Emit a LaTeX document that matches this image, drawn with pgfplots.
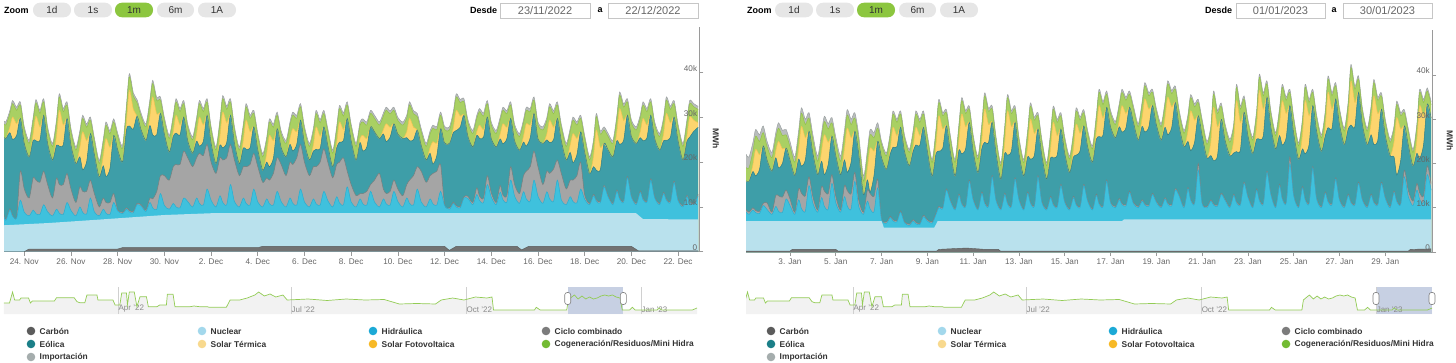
\documentclass[border=0pt]{standalone}
\usepackage{pgfplots}
\pgfplotsset{compat=1.18}
\usepackage{pgfplotstable}
\usepackage{fontspec}
\setmainfont{Liberation Sans}
\newcommand\fs[1]{\fontsize{#1}{#1}\selectfont}
\definecolor{impF}{HTML}{B9BDBD}\definecolor{impL}{HTML}{9CA2A2}
\definecolor{cogF}{HTML}{A9D063}\definecolor{cogL}{HTML}{93C24C}
\definecolor{solF}{HTML}{FCD56E}\definecolor{solL}{HTML}{F2C552}
\definecolor{winF}{HTML}{3E9EA8}\definecolor{winL}{HTML}{2E7F88}
\definecolor{ccF}{HTML}{A5A5A5}\definecolor{ccL}{HTML}{76807F}
\definecolor{hydF}{HTML}{3FC1DD}\definecolor{hydL}{HTML}{2AAED0}
\definecolor{nucF}{HTML}{B9E1ED}\definecolor{nucL}{HTML}{A8D8E8}
\definecolor{carF}{HTML}{727272}\definecolor{carL}{HTML}{5A5A5A}
\definecolor{axgray}{HTML}{9A9A9A}\definecolor{labgray}{HTML}{666666}
\definecolor{txt}{HTML}{333333}\definecolor{btn}{HTML}{E6E6E6}\definecolor{btnon}{HTML}{8CC63F}
\definecolor{navfill}{HTML}{F2F2F2}\definecolor{navline}{HTML}{93CC55}\definecolor{sel}{HTML}{C7D0E3}
\definecolor{navgrid}{HTML}{D0D0D0}\definecolor{navlab}{HTML}{8A8A8A}
\definecolor{lgCar}{HTML}{5C5C5C}\definecolor{lgNuc}{HTML}{A3D8EC}\definecolor{lgHyd}{HTML}{1CA9D6}
\definecolor{lgCC}{HTML}{7C7C7C}\definecolor{lgWin}{HTML}{1B7F88}\definecolor{lgST}{HTML}{F8D98E}
\definecolor{lgPV}{HTML}{F7B926}\definecolor{lgCog}{HTML}{73BB33}\definecolor{lgImp}{HTML}{A5ADAD}

% ---------------- LEFT PANEL (days since 23 Nov 2022, values in thousands of MWh, cumulative tops)
\pgfplotstableread{
t H C W S G T
0.10 8.4 8.7 25.7 25.7 28.7 29.4
0.21 7.0 7.3 25.3 25.3 28.3 29.0
0.38 9.3 9.6 26.6 27.8 30.8 31.5
0.50 7.9 8.2 25.1 30.1 33.1 33.8
0.67 7.5 7.8 25.9 28.6 31.6 32.3
0.83 11.5 18.0 29.8 29.8 32.8 33.5
1.00 8.8 14.0 24.2 24.2 27.2 27.9
1.21 8.0 12.0 21.2 21.2 24.2 24.9
1.38 9.3 16.5 24.9 26.3 29.3 30.0
1.50 8.5 16.0 24.8 30.3 33.3 34.0
1.67 8.3 15.5 24.9 27.9 30.9 31.6
1.83 10.5 18.0 30.5 30.5 33.5 34.2
2.00 8.9 15.0 24.2 24.2 27.2 27.9
2.21 8.0 12.0 20.5 20.5 23.5 24.2
2.38 9.5 16.5 23.8 25.8 28.8 29.5
2.50 8.6 15.0 23.6 31.6 34.6 35.3
2.67 8.3 15.0 23.9 28.3 31.3 32.0
2.83 11.0 17.5 29.8 29.8 32.8 33.5
3.00 9.2 14.0 23.8 23.8 26.8 27.5
3.21 8.0 11.0 19.7 19.7 22.7 23.4
3.38 10.0 14.5 21.2 23.3 26.3 27.0
3.50 8.8 13.5 18.3 26.8 29.8 30.5
3.67 8.4 13.5 20.1 24.8 27.8 28.5
3.83 12.0 16.0 26.4 26.4 29.4 30.1
4.00 8.9 13.0 21.8 21.8 24.8 25.5
4.21 8.0 10.0 16.7 16.7 19.7 20.4
4.38 9.5 12.0 19.2 21.3 24.3 25.0
4.50 8.6 11.0 16.8 25.3 28.3 29.0
4.67 8.3 11.0 18.6 23.3 26.3 27.0
4.83 11.0 13.0 26.0 26.0 29.0 29.7
5.00 9.1 9.4 22.8 22.8 25.8 26.5
5.21 8.5 8.8 20.1 20.1 23.1 23.8
5.38 9.5 9.8 27.3 29.3 32.3 33.0
5.50 8.9 9.2 28.1 36.1 39.1 39.8
5.67 8.7 9.0 27.4 31.8 34.8 35.5
5.83 10.5 10.8 30.3 30.3 33.3 34.0
6.00 10.2 10.5 27.3 27.3 30.3 31.0
6.21 9.0 9.3 24.9 24.9 27.9 28.6
6.38 11.0 12.0 28.2 30.3 33.3 34.0
6.50 9.8 11.8 26.1 34.6 37.6 38.3
6.67 9.4 13.4 26.1 30.8 33.8 34.5
6.83 13.0 17.0 30.9 30.9 33.9 34.6
7.00 10.3 17.0 26.3 26.3 29.3 30.0
7.21 9.5 16.0 22.3 22.3 25.3 26.0
7.38 10.8 19.0 25.8 26.8 29.8 30.5
7.50 10.0 19.5 26.5 30.5 33.5 34.2
7.67 9.8 19.5 26.1 28.3 31.3 32.0
7.83 12.0 22.5 30.1 30.1 33.1 33.8
8.00 11.2 21.0 24.8 24.8 27.8 28.5
8.21 10.0 19.0 22.0 22.0 25.0 25.7
8.38 12.0 21.0 24.7 26.3 29.3 30.0
8.50 10.8 22.0 23.6 30.1 33.1 33.8
8.67 10.4 21.5 24.7 28.3 31.3 32.0
8.83 14.0 24.0 30.5 30.5 33.5 34.2
9.00 11.5 20.0 24.3 24.3 27.3 28.0
9.21 10.0 17.5 19.7 19.7 22.7 23.4
9.38 12.5 21.0 23.8 25.8 28.8 29.5
9.50 11.0 20.5 23.2 31.2 34.2 34.9
9.67 10.5 21.0 24.4 28.8 31.8 32.5
9.83 15.0 24.0 30.5 30.5 33.5 34.2
10.00 11.2 20.5 24.3 24.3 27.3 28.0
10.21 10.0 17.0 19.7 19.7 22.7 23.4
10.38 12.0 19.0 23.2 24.8 27.8 28.5
10.50 10.8 19.0 22.9 29.4 32.4 33.1
10.67 10.4 19.5 23.2 26.8 29.8 30.5
10.83 14.0 22.0 27.9 27.9 30.9 31.6
11.00 11.1 19.0 22.8 22.8 25.8 26.5
11.21 10.0 15.5 18.2 18.2 21.2 21.9
11.38 11.8 16.5 20.0 21.8 24.8 25.5
11.50 10.7 16.0 19.0 26.0 29.0 29.7
11.67 10.4 17.5 20.9 24.8 27.8 28.5
11.83 13.5 21.0 27.5 27.5 30.5 31.2
12.00 11.2 19.5 23.3 23.3 26.3 27.0
12.21 10.0 17.0 21.2 21.2 24.2 24.9
12.38 12.0 20.0 24.0 25.3 28.3 29.0
12.50 10.8 19.5 22.5 27.5 30.5 31.2
12.67 10.4 21.0 24.0 26.8 29.8 30.5
12.83 14.0 24.0 29.4 29.4 32.4 33.1
13.00 11.1 20.0 24.3 24.3 27.3 28.0
13.21 10.0 17.0 20.5 20.5 23.5 24.2
13.38 11.8 19.0 22.5 23.8 26.8 27.5
13.50 10.7 19.0 22.9 27.9 30.9 31.6
13.67 10.4 20.0 23.0 25.8 28.8 29.5
13.83 13.5 23.0 27.9 27.9 30.9 31.6
14.00 11.4 20.0 23.8 23.8 26.8 27.5
14.21 10.0 16.5 19.0 19.0 22.0 22.7
14.38 12.3 19.5 23.2 24.3 27.3 28.0
14.50 10.9 20.0 24.5 29.0 32.0 32.7
14.67 10.5 21.0 24.8 27.3 30.3 31.0
14.83 14.5 18.0 29.8 29.8 32.8 33.5
15.00 11.1 15.0 24.8 24.8 27.8 28.5
15.21 10.0 12.5 20.5 20.5 23.5 24.2
15.38 11.8 13.0 24.4 25.3 28.3 29.0
15.50 10.7 13.0 22.5 26.0 29.0 29.7
15.67 10.4 13.5 23.4 25.3 28.3 29.0
15.83 13.5 15.0 27.9 27.9 30.9 31.6
16.00 11.1 16.0 26.8 26.8 29.8 30.5
16.21 10.0 17.5 25.3 25.3 28.3 29.0
16.38 11.8 14.0 26.3 27.3 30.3 31.0
16.50 10.7 13.0 24.6 28.6 31.6 32.3
16.67 10.4 13.5 25.6 27.8 30.8 31.5
16.83 13.5 16.0 28.6 28.6 31.6 32.3
17.00 11.2 14.0 26.3 26.3 29.3 30.0
17.21 10.0 12.5 25.3 25.3 28.3 29.0
17.38 12.0 15.0 25.5 26.8 29.8 30.5
17.50 10.8 16.0 24.8 29.8 32.8 33.5
17.67 10.4 17.0 25.0 27.8 30.8 31.5
17.83 14.0 19.0 27.2 27.2 30.2 30.9
18.00 11.1 18.0 23.8 23.8 26.8 27.5
18.21 10.0 15.5 20.5 20.5 23.5 24.2
18.38 11.8 17.0 22.0 23.3 26.3 27.0
18.50 10.7 17.5 19.6 24.6 27.6 28.3
18.67 10.4 18.0 21.5 24.3 27.3 28.0
18.83 13.5 19.5 27.5 27.5 30.5 31.2
19.00 10.3 10.6 24.3 24.3 27.3 28.0
19.21 9.5 9.8 24.2 24.2 27.2 27.9
19.38 10.8 11.1 26.7 27.8 30.8 31.5
19.50 10.0 10.3 27.1 31.6 34.6 35.3
19.67 9.8 10.1 27.8 30.3 33.3 34.0
19.83 12.0 12.3 30.5 30.5 33.5 34.2
20.00 11.9 12.4 25.8 25.8 28.8 29.5
20.21 10.5 11.0 23.4 23.4 26.4 27.1
20.38 12.8 14.3 26.0 26.8 29.8 30.5
20.50 11.4 12.4 25.3 28.3 31.3 32.0
20.67 11.0 12.0 25.6 27.3 30.3 31.0
20.83 15.0 17.0 30.1 30.1 33.1 33.8
21.00 12.2 13.2 25.3 25.3 28.3 29.0
21.21 10.5 11.0 23.4 23.4 26.4 27.1
21.38 13.3 14.8 25.2 26.3 29.3 30.0
21.50 11.6 12.6 24.1 28.6 31.6 32.3
21.67 11.1 12.6 25.3 27.8 30.8 31.5
21.83 16.0 19.0 29.8 29.8 32.8 33.5
22.00 12.4 15.0 24.8 24.8 27.8 28.5
22.21 10.8 13.0 22.7 22.7 25.7 26.4
22.38 13.4 17.0 24.5 25.8 28.8 29.5
22.50 11.8 18.0 23.6 28.6 31.6 32.3
22.67 11.3 19.0 25.5 28.3 31.3 32.0
22.83 16.0 22.5 30.9 30.9 33.9 34.6
23.00 12.4 19.0 25.3 25.3 28.3 29.0
23.21 10.8 15.0 24.2 24.2 27.2 27.9
23.38 13.4 18.0 25.0 26.3 29.3 30.0
23.50 11.8 17.5 24.4 29.4 32.4 33.1
23.67 11.3 18.5 25.0 27.8 30.8 31.5
23.83 16.0 20.5 29.8 29.8 32.8 33.5
24.00 11.6 17.5 24.8 24.8 27.8 28.5
24.21 10.5 14.0 20.5 20.5 23.5 24.2
24.38 12.3 16.0 22.2 23.8 26.8 27.5
24.50 11.2 16.0 19.9 26.4 29.4 30.1
24.67 10.9 17.0 21.7 25.3 28.3 29.0
24.83 14.0 20.0 26.8 26.8 29.8 30.5
25.00 11.7 12.7 22.3 22.3 25.3 26.0
25.21 10.5 10.8 17.5 17.5 20.5 21.2
25.38 12.5 12.8 19.0 21.3 24.3 25.0
25.50 11.3 11.6 18.2 27.2 30.2 30.9
25.67 10.9 11.2 18.3 23.3 26.3 27.0
25.83 14.5 14.8 24.2 24.2 27.2 27.9
26.00 12.3 12.6 22.8 22.8 25.8 26.5
26.21 10.5 10.8 21.2 21.2 24.2 24.9
26.38 13.5 13.8 24.8 26.8 29.8 30.5
26.50 11.7 12.0 24.0 32.0 35.0 35.7
26.67 11.1 11.4 24.9 29.3 32.3 33.0
26.83 16.5 16.8 30.5 30.5 33.5 34.2
27.00 12.2 12.5 25.8 25.8 28.8 29.5
27.21 10.5 10.8 24.2 24.2 27.2 27.9
27.38 13.3 13.6 25.5 26.8 29.8 30.5
27.50 11.6 11.9 24.8 29.8 32.8 33.5
27.67 11.1 11.4 25.5 28.3 31.3 32.0
27.83 16.0 16.3 30.5 30.5 33.5 34.2
28.00 12.0 12.3 25.3 25.3 28.3 29.0
28.21 10.5 10.8 22.7 22.7 25.7 26.4
28.38 13.0 13.3 24.8 26.3 29.3 30.0
28.50 11.5 11.8 24.9 30.9 33.9 34.6
28.67 11.0 11.3 25.5 28.8 31.8 32.5
28.83 15.5 15.8 30.1 30.1 33.1 33.8
29.00 11.4 11.7 24.8 24.8 27.8 28.5
29.21 10.0 10.3 20.5 20.5 23.5 24.2
29.38 12.3 12.6 24.7 25.8 28.8 29.5
29.50 10.9 11.2 25.6 30.1 33.1 33.8
29.67 10.5 10.8 26.9 29.4 32.4 33.1
29.86 12.5 12.8 27.8 28.8 31.8 32.5
}\leftdata
\pgfplotstableread{
t N
0.10 5.9
2 6.4
4 7.1
7 8.2
9 8.6
27.2 8.6
27.5 7.3
29.86 7.2
}\leftnuc
\pgfplotstableread{
t K
0.10 0
1.0 0
1.2 0.6
5.0 0.6
5.2 0.9
11.0 0.9
11.2 1.2
19.0 1.2
19.2 0.3
19.5 1.2
22.1 1.2
22.3 0.4
22.6 1.2
27.0 1.2
27.3 0.2
29.86 0.2
}\leftcar

% ---------------- RIGHT PANEL (days since 1 Jan 2023)
\pgfplotstableread{
t H C W S G T
0.08 9.1 9.6 16.1 16.1 19.1 22.1
0.21 8.5 9.0 16.0 16.0 19.0 21.5
0.38 9.5 10.0 18.2 19.7 22.7 24.7
0.50 8.9 9.4 17.2 23.2 26.2 27.7
0.67 8.7 9.2 18.7 22.0 25.0 26.5
0.83 10.5 11.0 24.0 24.0 27.0 28.5
1.00 9.6 11.1 20.8 20.8 23.8 25.0
1.21 8.5 9.0 18.3 18.3 21.3 22.5
1.38 10.3 12.8 21.3 22.8 25.8 27.0
1.50 9.2 12.7 19.0 25.0 28.0 29.2
1.67 8.9 12.4 20.0 23.3 26.3 27.5
1.83 12.0 14.0 23.5 23.5 26.5 27.7
2.00 10.5 12.0 20.8 20.8 23.8 25.0
2.21 8.5 9.0 17.3 17.3 20.3 21.5
2.38 11.8 14.3 21.0 23.3 26.3 27.5
2.50 9.8 13.3 19.4 28.4 31.4 32.6
2.67 9.2 12.7 20.8 25.8 28.8 30.0
2.83 15.0 17.0 27.3 27.3 30.3 31.5
3.00 11.0 12.5 22.3 22.3 25.3 26.5
3.21 9.0 9.5 17.5 17.5 20.5 21.7
3.38 12.3 14.8 20.5 22.8 25.8 27.0
3.50 10.3 13.8 17.5 26.5 29.5 30.7
3.67 9.7 13.2 19.8 24.8 27.8 29.0
3.83 15.5 17.5 26.2 26.2 29.2 30.4
4.00 11.1 12.6 21.8 21.8 24.8 26.0
4.21 9.0 9.5 17.5 17.5 20.5 21.7
4.38 12.5 15.0 20.8 23.3 26.3 27.5
4.50 10.4 13.9 18.0 28.0 31.0 32.2
4.67 9.7 13.2 20.3 25.8 28.8 30.0
4.83 16.0 18.0 27.3 27.3 30.3 31.5
5.00 10.3 11.8 22.3 22.3 25.3 26.5
5.21 8.5 9.0 13.0 13.0 16.0 17.2
5.38 11.5 14.0 16.3 18.8 21.8 23.0
5.50 9.7 13.2 13.5 23.5 26.5 27.7
5.67 9.1 12.6 17.3 22.8 25.8 27.0
5.83 14.5 16.5 25.0 25.0 28.0 29.2
6.00 7.3 7.6 21.3 21.3 24.3 25.0
6.21 6.5 6.8 18.7 18.7 21.7 22.4
6.38 7.8 8.1 22.2 23.3 26.3 27.0
6.50 7.0 7.3 23.7 28.2 31.2 31.9
6.67 6.8 7.1 23.8 26.3 29.3 30.0
6.83 9.0 9.3 28.2 28.2 31.2 31.9
7.00 6.6 6.9 22.8 22.8 25.8 26.5
7.21 6.0 6.3 19.5 19.5 22.5 23.2
7.38 7.0 7.3 22.8 23.8 26.8 27.5
7.50 6.4 6.7 24.2 28.2 31.2 31.9
7.67 6.2 6.5 24.1 26.3 29.3 30.0
7.83 8.0 8.3 28.2 28.2 31.2 31.9
8.00 7.0 7.3 22.8 22.8 25.8 26.5
8.21 6.5 6.8 17.2 17.2 20.2 20.9
8.38 8.5 8.8 22.3 24.3 27.3 28.0
8.50 10.0 10.3 22.8 30.8 33.8 34.5
8.67 9.8 10.1 23.4 27.8 30.8 31.5
8.83 14.0 14.3 28.5 28.5 31.5 32.2
9.00 11.5 11.8 22.8 22.8 25.8 26.5
9.21 9.5 9.8 17.2 17.2 20.2 20.9
9.38 12.8 13.1 23.0 25.3 28.3 29.0
9.50 10.8 11.1 22.2 31.2 34.2 34.9
9.67 10.2 10.5 23.3 28.3 31.3 32.0
9.83 16.0 16.3 29.3 29.3 32.3 33.0
10.00 11.8 12.1 22.8 22.8 25.8 26.5
10.21 9.5 9.8 18.0 18.0 21.0 21.7
10.38 13.3 13.6 23.4 25.3 28.3 29.0
10.50 11.0 11.3 24.8 32.3 35.3 36.0
10.67 10.3 10.6 24.7 28.8 31.8 32.5
10.83 17.0 17.3 29.3 29.3 32.3 33.0
11.00 11.6 11.9 22.3 22.3 25.3 26.0
11.21 9.5 9.8 16.5 16.5 19.5 20.2
11.38 13.0 13.3 22.3 24.8 27.8 28.5
11.50 10.9 11.2 21.9 31.9 34.9 35.6
11.67 10.2 10.5 22.8 28.3 31.3 32.0
11.83 16.5 16.8 29.3 29.3 32.3 33.0
12.00 11.8 12.1 22.3 22.3 25.3 26.0
12.21 9.5 9.8 17.2 17.2 20.2 20.9
12.38 13.3 13.6 21.5 23.8 26.8 27.5
12.50 11.0 11.3 21.0 30.0 33.0 33.7
12.67 10.3 10.6 21.8 26.8 29.8 30.5
12.83 17.0 17.3 27.8 27.8 30.8 31.5
13.00 11.2 11.5 21.8 21.8 24.8 25.5
13.21 9.5 9.8 16.5 16.5 19.5 20.2
13.38 12.3 12.6 21.3 23.3 26.3 27.0
13.50 10.6 10.9 21.3 29.3 32.3 33.0
13.67 10.1 10.4 21.9 26.3 29.3 30.0
13.83 15.0 15.3 27.8 27.8 30.8 31.5
14.00 11.2 11.5 22.3 22.3 25.3 26.0
14.21 9.5 9.8 18.0 18.0 21.0 21.7
14.38 12.3 12.6 21.5 23.3 26.3 27.0
14.50 10.6 10.9 21.9 28.9 31.9 32.6
14.67 10.1 10.4 22.9 26.8 29.8 30.5
14.83 15.0 15.3 28.5 28.5 31.5 32.2
15.00 11.5 11.8 23.8 23.8 26.8 27.5
15.21 9.5 9.8 20.3 20.3 23.3 24.0
15.38 12.8 13.1 25.5 27.3 30.3 31.0
15.50 10.8 11.1 26.1 33.1 36.1 36.8
15.67 10.2 10.5 26.4 30.3 33.3 34.0
15.83 16.0 16.3 32.7 32.7 35.7 36.4
16.00 11.1 11.4 28.3 28.3 31.3 32.0
16.21 10.0 10.3 25.8 25.8 28.8 29.5
16.38 11.8 12.1 28.3 29.8 32.8 33.5
16.50 10.7 11.0 27.1 33.1 36.1 36.8
16.67 10.4 10.7 28.0 31.3 34.3 35.0
16.83 13.5 13.8 32.7 32.7 35.7 36.4
17.00 10.9 11.2 29.3 29.3 32.3 33.0
17.21 10.0 10.3 25.3 25.3 28.3 29.0
17.38 11.5 11.8 28.4 30.3 33.3 34.0
17.50 10.6 10.9 27.1 34.6 37.6 38.3
17.67 10.3 10.6 28.2 32.3 35.3 36.0
17.83 13.0 13.3 33.1 33.1 36.1 36.8
18.00 11.2 11.5 28.8 28.8 31.8 32.5
18.21 10.0 10.3 25.3 25.3 28.3 29.0
18.38 12.0 12.3 28.2 30.3 33.3 34.0
18.50 10.8 11.1 26.5 35.0 38.0 38.7
18.67 10.4 10.7 28.1 32.8 35.8 36.5
18.83 14.0 14.3 33.8 33.8 36.8 37.5
19.00 12.6 12.9 28.3 28.3 31.3 32.0
19.21 10.0 10.3 23.8 23.8 26.8 27.5
19.38 14.3 14.6 25.0 27.3 30.3 31.0
19.50 11.7 12.0 22.9 31.9 34.9 35.6
19.67 10.9 11.2 24.8 29.8 32.8 33.5
19.83 18.5 20.0 30.8 30.8 33.8 34.5
20.00 10.9 11.2 26.3 26.3 29.3 30.0
20.21 10.0 10.3 21.3 21.3 24.3 25.0
20.38 11.5 11.8 21.8 24.8 27.8 28.5
20.50 10.6 10.9 20.7 32.7 35.7 36.4
20.67 10.3 10.6 21.7 28.3 31.3 32.0
20.83 13.0 13.3 30.0 30.0 33.0 33.7
21.00 11.7 12.0 25.3 25.3 28.3 29.0
21.21 10.0 10.3 21.8 21.8 24.8 25.5
21.38 12.8 13.1 22.4 25.3 28.3 29.0
21.50 11.1 11.4 22.7 34.2 37.2 37.9
21.67 10.6 10.9 23.0 29.3 32.3 33.0
21.83 15.5 15.8 31.6 31.6 34.6 35.3
22.00 12.4 12.7 26.3 26.3 29.3 30.0
22.21 10.0 10.3 22.3 22.3 25.3 26.0
22.38 14.0 14.3 25.5 28.3 31.3 32.0
22.50 11.6 11.9 25.5 36.5 39.5 40.2
22.67 10.8 11.1 26.2 32.3 35.3 36.0
22.83 18.0 18.3 35.0 35.0 38.0 38.7
23.00 13.0 13.3 28.3 28.3 31.3 32.0
23.21 10.0 10.3 23.3 23.3 26.3 27.0
23.38 15.0 15.3 26.3 28.8 31.8 32.5
23.50 12.0 12.3 24.2 34.2 37.2 37.9
23.67 11.0 11.3 25.8 31.3 34.3 35.0
23.83 20.0 21.5 33.1 33.1 36.1 36.8
24.00 12.7 13.0 26.8 26.8 29.8 30.5
24.21 10.0 10.3 21.0 21.0 24.0 24.7
24.38 14.5 14.8 23.3 26.3 29.3 30.0
24.50 11.8 12.1 22.2 34.2 37.2 37.9
24.67 10.9 11.2 24.2 30.8 33.8 34.5
24.83 19.0 19.3 33.1 33.1 36.1 36.8
25.00 12.0 12.3 27.3 27.3 30.3 31.0
25.21 10.0 10.3 22.8 22.8 25.8 26.5
25.38 13.3 13.6 26.3 28.3 31.3 32.0
25.50 11.3 11.6 28.1 36.1 39.1 39.8
25.67 10.7 11.0 27.9 32.3 35.3 36.0
25.83 16.5 16.8 34.6 34.6 37.6 38.3
26.00 11.7 12.0 28.8 28.8 31.8 32.5
26.21 10.0 10.3 24.3 24.3 27.3 28.0
26.38 12.8 13.1 27.8 30.3 33.3 34.0
26.50 11.1 11.4 28.7 38.7 41.7 42.4
26.67 10.6 10.9 28.3 33.8 36.8 37.5
26.83 15.5 15.8 36.1 36.1 39.1 39.8
27.00 11.7 12.0 28.8 28.8 31.8 32.5
27.21 10.0 10.3 24.3 24.3 27.3 28.0
27.38 12.8 13.1 26.5 29.3 32.3 33.0
27.50 11.1 11.4 24.3 35.3 38.3 39.0
27.67 10.6 10.9 25.2 31.3 34.3 35.0
27.83 15.5 15.8 32.3 32.3 35.3 36.0
28.00 12.1 12.4 26.3 26.3 29.3 30.0
28.21 10.0 10.3 21.8 21.8 24.8 25.5
28.38 13.5 13.8 21.5 24.8 27.8 28.5
28.50 11.4 11.7 17.4 30.4 33.4 34.1
28.67 10.7 11.0 20.6 27.8 30.8 31.5
28.83 17.0 18.5 28.5 28.5 31.5 32.2
29.00 12.6 14.0 24.3 24.3 27.3 28.0
29.21 10.5 11.5 19.5 19.5 22.5 23.2
29.38 14.0 15.5 22.3 25.3 28.3 29.0
29.50 11.9 13.4 21.1 33.1 36.1 36.8
29.67 11.2 12.7 24.2 30.8 33.8 34.5
29.83 17.5 19.5 33.4 33.4 36.4 37.1
30.00 14.0 15.5 30.3 30.3 33.3 34.0
}\rightdata
\pgfplotstableread{
t N
0.08 7.0
6.0 7.0
6.1 5.5
8.3 5.5
8.45 7.0
16.5 7.0
16.6 7.4
30.0 7.4
}\rightnuc
\pgfplotstableread{
t K
0.08 0.2
2.0 0.2
2.1 0.6
4.0 0.6
4.1 0.2
8.4 0.2
8.5 0.6
9.7 0.9
10.5 0.6
11.1 0.6
11.2 0.2
29.0 0.2
29.1 0.6
30.0 0.7
}\rightcar

% ---------------- navigator series (days since 1 Jan 2022, relative height)
\pgfplotstableread{
d v
30.1 11
33 11
34.6 22
35.7 14
38.3 14
39 16
43 16
44 11
45 13
56.6 13
57.7 16.3
67 16.3
68.5 12.3
70 11.3
72.6 11.3
73.7 19
79 19
79.5 14
87.4 14
88.5 9
91 9
92 21
94.5 21
95 9
96 22
98.6 22
100 7.3
101.6 17.3
105 17.3
106 7.3
110.5 7.3
112 9
115.5 9
116 19.7
119 19.7
120 7.3
128 7.3
130 8
133 7.3
137 7.3
138 6.7
147 6.7
149 14
154 14
158 16
162 19
164 22
167 18
170 20
173 17
176.8 19
179 14
190 15
200 13.5
210 15
220 14
230 14.5
238 10
247 10.5
257 10
260 14
266 16
272 14
278 17
284 16
286.7 17
287.5 4
309 4
310 6.7
312 4
326 4
326.8 14
328 16
330 19
332 15
334 18
336 15
338 17
340 15
342 16
344 18
346 19
348 18
350 19
352 17
354 16
355.2 4
359 4
360.5 6.7
362 4
373.5 4
374.5 6
376 4
392 4
394.5 6
}\navdata

\pgfplotsset{
  mainax/.style={scale only axis, anchor=south west, ymin=0,
    axis x line*=bottom, axis y line*=right, tick align=outside,
    major tick length=4pt, ytick={0,10,20,30,40}, yticklabel style={text opacity=0},
    axis line style={draw=axgray, line width=0.7pt}, tick style={draw=axgray, line width=0.6pt},
    xticklabel style={font=\fs{8.2}, text=labgray, inner sep=1pt, yshift=-1.5pt},
    clip=true},
  lay/.style={line width=0.5pt, smooth, tension=0.45},
  navax/.style={scale only axis, anchor=south west, ymin=0, ymax=27, axis lines=none, clip=true}
}
\newcommand\stack[3]{%
  \addplot[lay, fill=impF, draw=none] table[x=t,y=T]{#1} \closedcycle;
  \addplot[lay, fill=cogF, draw=none] table[x=t,y=G]{#1} \closedcycle;
  \addplot[lay, fill=solF, draw=none] table[x=t,y=S]{#1} \closedcycle;
  \addplot[lay, fill=winF, draw=none] table[x=t,y=W]{#1} \closedcycle;
  \addplot[lay, fill=ccF, draw=none] table[x=t,y=C]{#1} \closedcycle;
  \addplot[lay, fill=hydF, draw=none] table[x=t,y=H]{#1} \closedcycle;
  \addplot[lay, draw=impL] table[x=t,y=T]{#1};
  \addplot[lay, draw=cogL] table[x=t,y=G]{#1};
  \addplot[lay, draw=solL] table[x=t,y=S]{#1};
  \addplot[lay, draw=winL] table[x=t,y=W]{#1};
  \addplot[lay, draw=ccL] table[x=t,y=C]{#1};
  \addplot[lay, draw=hydL] table[x=t,y=H]{#1};
  \addplot[fill=nucF, draw=none] table[x=t,y=N]{#2} \closedcycle;
  \addplot[fill=carF, draw=none] table[x=t,y=K]{#3} \closedcycle;
  \addplot[line width=0.4pt, draw=carL] table[x=t,y=K]{#3};
}
\newcommand\ylab[3]{\node[anchor=south east, inner sep=0pt, font=\fs{8.2}, text=labgray] at (axis cs:#1,#2) [xshift=-2pt, yshift=1pt] {#3};}
\newcommand\ylabs[1]{\ylab{#1}{0}{0}\ylab{#1}{10}{10k}\ylab{#1}{20}{20k}\ylab{#1}{30}{30k}\ylab{#1}{40}{40k}}
\newcommand\mline[2]{\draw[navgrid, line width=0.6pt] (axis cs:#1,0) -- (axis cs:#1,27);
  \node[anchor=south west, inner sep=0.5pt, font=\fs{8}, text=navlab] at (axis cs:#1,1) {#2};}
\newcommand\mlines{\mline{90}{Apr '22}\mline{181}{Jul '22}\mline{273}{Oct '22}\mline{365}{Jan '23}}
\newcommand\btn[4]{\fill[#3, rounded corners=7pt] (#1,344.7) rectangle (#2,359.3);
  \node[font=\fs{10}, text=txt] at ({(#1+#2)/2},351.6) {#4};}
\newcommand\leg[4]{\fill[#3] (#1,#2) circle (4.3);
  \node[anchor=west, inner sep=0pt, font=\bfseries\fs{8.4}, text=txt] at (#1+8.5,#2) {#4};}
\newcommand\handle[1]{\filldraw[fill=white, draw=gray, line width=0.6pt, rounded corners=2.5pt] (#1-3,57.5) rectangle (#1+3,69.5);}

\begin{document}
\begin{tikzpicture}
% ===== LEFT main chart
\begin{axis}[mainax, at={(4pt,110.3pt)}, width=695.3pt, height=225pt,
  xmin=0.131, xmax=29.91, ymax=50.3,
  xtick={1,3,...,29},
  xticklabels={24. Nov,26. Nov,28. Nov,30. Nov,2. Dec,4. Dec,6. Dec,8. Dec,10. Dec,12. Dec,14. Dec,16. Dec,18. Dec,20. Dec,22. Dec}]
\stack{\leftdata}{\leftnuc}{\leftcar}
\ylabs{29.91}
\end{axis}
% ===== RIGHT main chart
\begin{axis}[mainax, at={(746pt,110pt)}, width=686pt, height=222pt,
  xmin=0.079, xmax=30.04, ymax=50.2,
  xtick={2,4,...,28},
  xticklabels={3. Jan,5. Jan,7. Jan,9. Jan,11. Jan,13. Jan,15. Jan,17. Jan,19. Jan,21. Jan,23. Jan,25. Jan,27. Jan,29. Jan}]
\stack{\rightdata}{\rightnuc}{\rightcar}
\ylabs{30.04}
\end{axis}
% ===== LEFT navigator
\begin{axis}[navax, at={(4pt,48pt)}, width=693pt, height=27pt, xmin=30.1, xmax=394.5]
\addplot[fill=navfill, draw=none] table[x=d,y=v]{\navdata} \closedcycle;
\fill[sel] (axis cs:326.5,0) rectangle (axis cs:355.7,27);
\mlines
\addplot[draw=navline, line width=0.7pt] table[x=d,y=v]{\navdata};
\end{axis}
% ===== RIGHT navigator
\begin{axis}[navax, at={(746pt,48pt)}, width=686pt, height=27pt, xmin=33.8, xmax=394.4]
\addplot[fill=navfill, draw=none] table[x=d,y=v]{\navdata} \closedcycle;
\fill[sel] (axis cs:365,0) rectangle (axis cs:394.4,27);
\mlines
\addplot[draw=navline, line width=0.7pt] table[x=d,y=v]{\navdata};
\end{axis}
\begin{scope}[x=1pt,y=1pt]
\handle{567.7}\handle{623.3}\handle{1376}\handle{1432}
% MWh labels
\node[rotate=-90, font=\bfseries\fs{8.5}, text=txt] at (716,223) {MWh};
\node[rotate=-90, font=\bfseries\fs{8.5}, text=txt] at (1450,221) {MWh};
% ---- top controls left
\node[anchor=west, inner sep=0pt, font=\bfseries\fs{9}] at (4,351.6) {Zoom};
\btn{33}{71}{btn}{1d}\btn{74}{112}{btn}{1s}\btn{115}{153}{btnon}{1m}\btn{157}{194}{btn}{6m}\btn{198}{236}{btn}{1A}
\node[anchor=west, inner sep=0pt, font=\bfseries\fs{9}] at (470,351.6) {Desde};
\filldraw[fill=white, draw=gray!45] (500,343.7) rectangle (590,358.7);
\node[font=\fs{11}, text=labgray] at (545,351) {23/11/2022};
\node[font=\bfseries\fs{9}] at (600,351.6) {a};
\filldraw[fill=white, draw=gray!45] (608,343.7) rectangle (698,358.7);
\node[font=\fs{11}, text=labgray] at (653,351) {22/12/2022};
% ---- top controls right
\node[anchor=west, inner sep=0pt, font=\bfseries\fs{9}] at (747,351.6) {Zoom};
\btn{775}{813}{btn}{1d}\btn{816}{854}{btn}{1s}\btn{857}{895}{btnon}{1m}\btn{899}{936}{btn}{6m}\btn{940}{978}{btn}{1A}
\node[anchor=west, inner sep=0pt, font=\bfseries\fs{9}] at (1205,351.6) {Desde};
\filldraw[fill=white, draw=gray!45] (1236,343.7) rectangle (1325,358.7);
\node[font=\fs{11}, text=labgray] at (1280.5,351) {01/01/2023};
\node[font=\bfseries\fs{9}] at (1334,351.6) {a};
\filldraw[fill=white, draw=gray!45] (1343,343.7) rectangle (1432,358.7);
\node[font=\fs{11}, text=labgray] at (1387.5,351) {30/01/2023};
% ---- legends
\foreach \o in {0,740}{
  \leg{31+\o}{31}{lgCar}{Carbón}
  \leg{202+\o}{31}{lgNuc}{Nuclear}
  \leg{373+\o}{31}{lgHyd}{Hidráulica}
  \leg{546+\o}{31}{lgCC}{Ciclo combinado}
  \leg{31+\o}{18}{lgWin}{Eólica}
  \leg{202+\o}{18}{lgST}{Solar Térmica}
  \leg{373+\o}{18}{lgPV}{Solar Fotovoltaica}
  \leg{546+\o}{18}{lgCog}{Cogeneración/Residuos/Mini Hidra}
  \leg{31+\o}{5}{lgImp}{Importación}
}
\end{scope}
\pgfresetboundingbox
\path (0pt,0pt) rectangle (1456pt,362pt);
\end{tikzpicture}
\end{document}
